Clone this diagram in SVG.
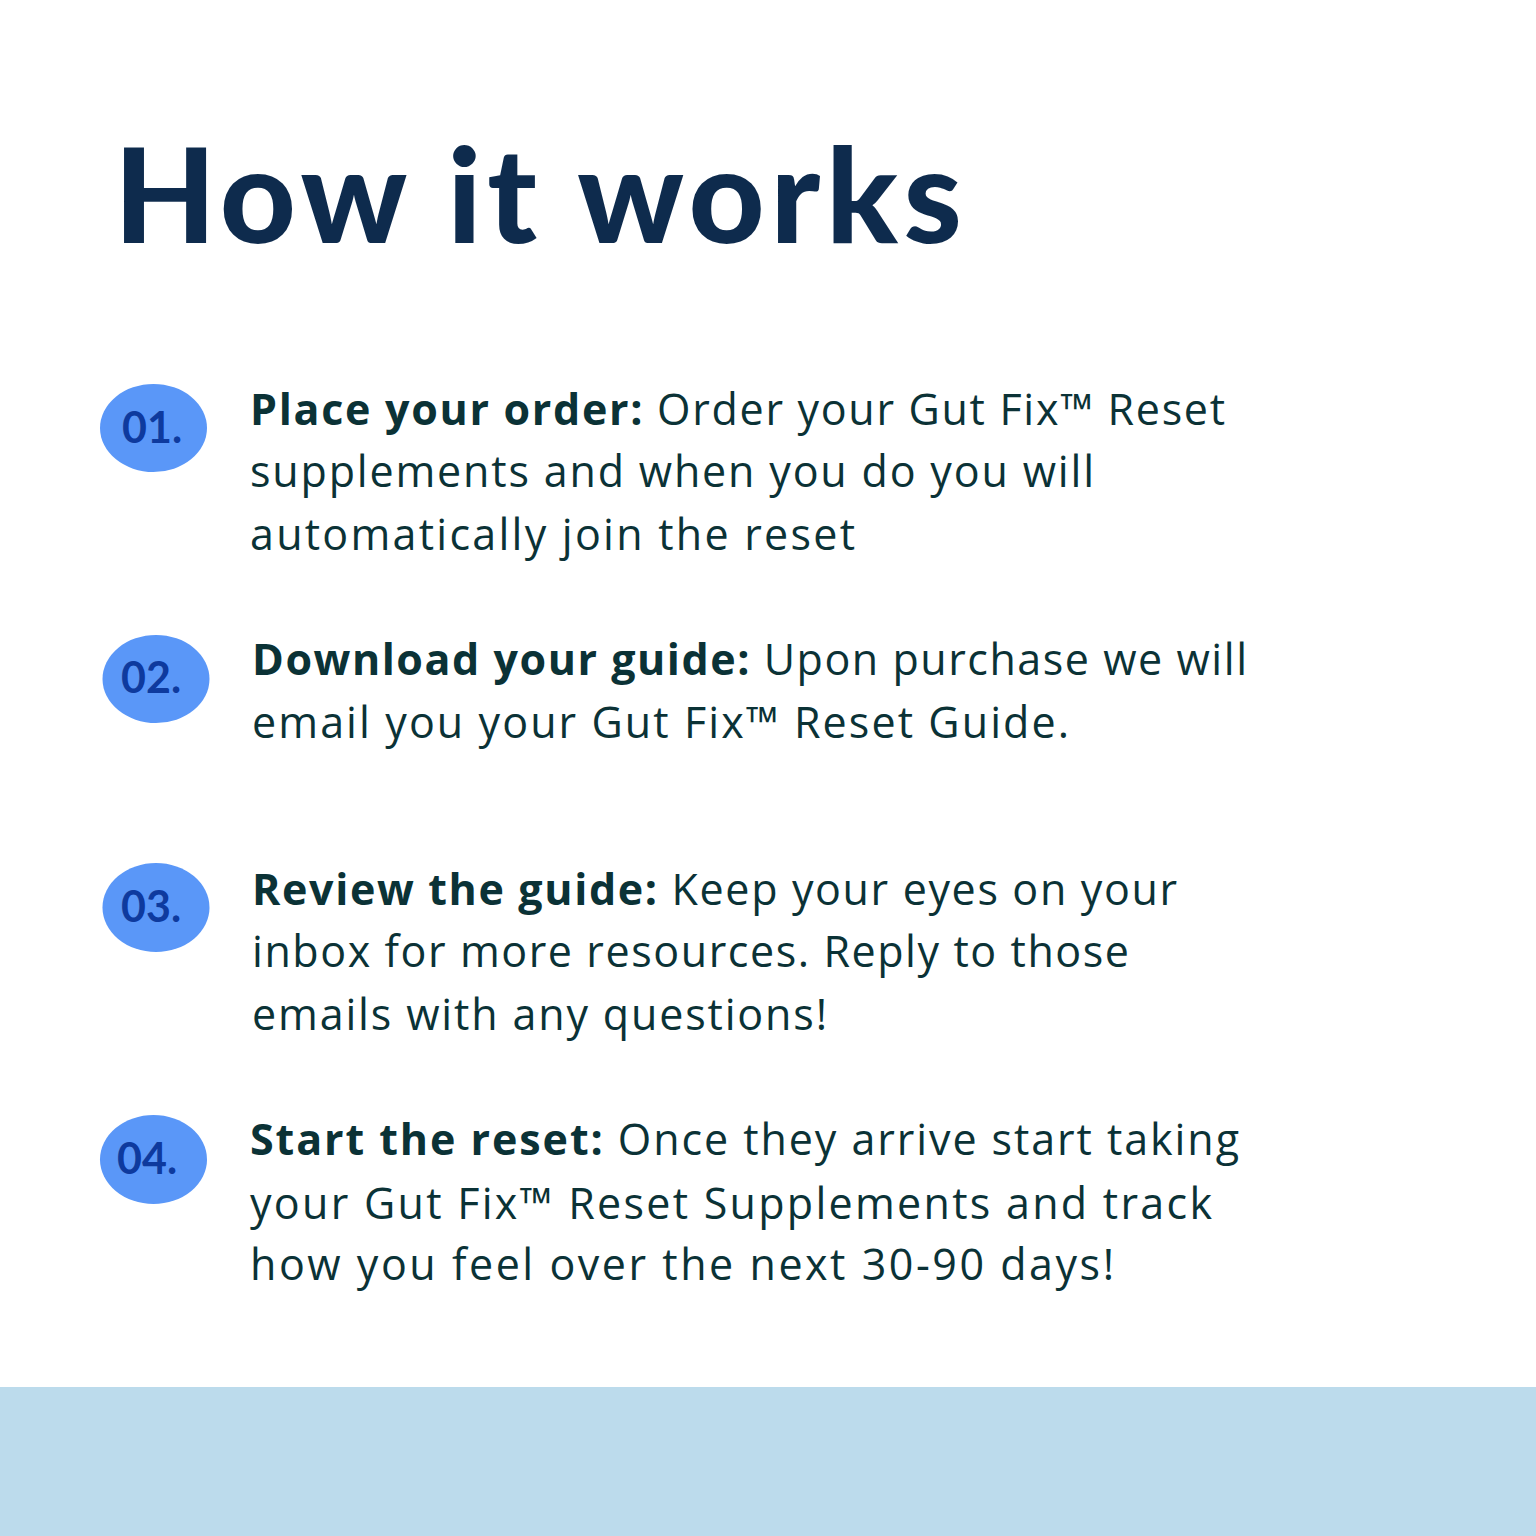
<svg xmlns="http://www.w3.org/2000/svg" width="1536" height="1536" viewBox="0 0 1536 1536">
<style>
.title{font-family:Lato,"Liberation Sans",sans-serif;font-weight:900;font-size:132px;fill:#0e2b4d}
.body{font-family:"Open Sans","Liberation Sans",sans-serif;font-weight:400;font-size:43px;fill:#0b3236}
.b{font-weight:700}
.badge{fill:#5a97f8}
.num{font-family:Lato,"Liberation Sans",sans-serif;font-weight:700;font-size:43px;fill:#0e3a9e}
</style>
<rect x="0" y="0" width="1536" height="1536" fill="#ffffff"/>
<rect x="0" y="1387" width="1536" height="149" fill="#bcdbec"/>
<text class="title" x="114" y="243" textLength="848" lengthAdjust="spacing">How it works</text>
<g id="step1">
<ellipse class="badge" cx="153.5" cy="428" rx="53.5" ry="44"/>
<text class="num" x="122" y="443">01.</text>
<text class="body" x="250" y="425" textLength="975" lengthAdjust="spacing"><tspan class="b">Place your order:</tspan> Order your Gut Fix™ Reset</text>
<text class="body" x="250" y="487" textLength="844" lengthAdjust="spacing">supplements and when you do you will</text>
<text class="body" x="250" y="550" textLength="605" lengthAdjust="spacing">automatically join the reset</text>
</g>
<g id="step2">
<ellipse class="badge" cx="156" cy="679" rx="53.5" ry="44"/>
<text class="num" x="121" y="693">02.</text>
<text class="body" x="252" y="675" textLength="995" lengthAdjust="spacing"><tspan class="b">Download your guide:</tspan> Upon purchase we will</text>
<text class="body" x="252" y="738" textLength="817" lengthAdjust="spacing">email you your Gut Fix™ Reset Guide.</text>
</g>
<g id="step3">
<ellipse class="badge" cx="156" cy="907.5" rx="53.5" ry="44.5"/>
<text class="num" x="121" y="922">03.</text>
<text class="body" x="252" y="905" textLength="925" lengthAdjust="spacing"><tspan class="b">Review the guide:</tspan> Keep your eyes on your</text>
<text class="body" x="252" y="967" textLength="877" lengthAdjust="spacing">inbox for more resources. Reply to those</text>
<text class="body" x="252" y="1030" textLength="575" lengthAdjust="spacing">emails with any questions!</text>
</g>
<g id="step4">
<ellipse class="badge" cx="153.5" cy="1159.5" rx="53.5" ry="44.5"/>
<text class="num" x="117" y="1174">04.</text>
<text class="body" x="250" y="1155" textLength="989" lengthAdjust="spacing"><tspan class="b">Start the reset:</tspan> Once they arrive start taking</text>
<text class="body" x="250" y="1219" textLength="962" lengthAdjust="spacing">your Gut Fix™ Reset Supplements and track</text>
<text class="body" x="250" y="1280" textLength="864" lengthAdjust="spacing">how you feel over the next 30-90 days!</text>
</g>
<g id="connectors"/>
</svg>
